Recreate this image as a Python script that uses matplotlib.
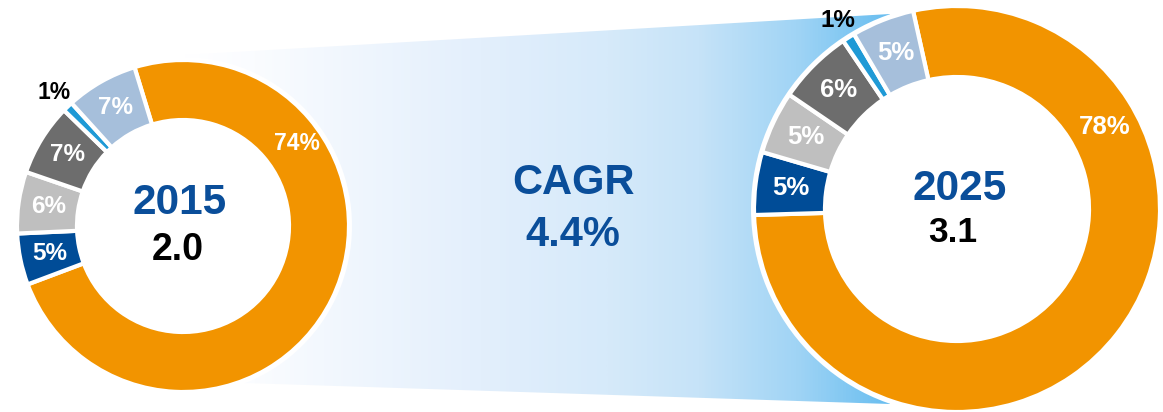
import numpy as np
import matplotlib
matplotlib.use("Agg")
import matplotlib.pyplot as plt
from matplotlib.colors import LinearSegmentedColormap
from matplotlib.patches import Polygon, Circle

# ---- data ----
segments = ["Orange", "Dark blue", "Light gray", "Dark gray", "Blue", "Light blue"]
share_2015 = [74, 5, 6, 7, 1, 7]
share_2025 = [78, 5, 5, 6, 1, 5]
year_labels = ["2015", "2025"]
totals = ["2.0", "3.1"]
cagr_label = "CAGR\n4.4%"

colors = ["#F29400", "#004C97", "#BFBFBF", "#6D6D6D", "#1F9AD6", "#A6BFDB"]
text_blue = "#0A4E9A"

W, H = 1163, 412
fig = plt.figure(figsize=(W / 100, H / 100), dpi=100)
ax = fig.add_axes([0, 0, 1, 1])
plt.rcParams["font.family"] = ["Liberation Sans", "DejaVu Sans"]


def Y(y):
    return H - y


# ---- gradient band ----
band = [(183, Y(55)), (890, Y(14)), (890, Y(404)), (183, Y(381))]
cmap = LinearSegmentedColormap.from_list(
    "band",
    [(0.0, "#FFFFFF"), (0.1, "#FAFCFF"), (0.42, "#E3EFFC"), (0.6, "#D6EAFA"),
     (0.73, "#C6E3F8"), (0.87, "#A0D4F5"), (1.0, "#69BEF0")])
grad = np.linspace(0, 1, 512).reshape(1, -1)
im = ax.imshow(grad, extent=[183, 890, Y(404), Y(14)], cmap=cmap,
               aspect="auto", zorder=0, interpolation="bilinear")
poly = Polygon(band, closed=True, facecolor="none", edgecolor="none")
ax.add_patch(poly)
im.set_clip_path(poly)

# ---- donuts ----
donuts = [
    dict(values=share_2015, center=(183, Y(226)), R=166, r=106, start=107,
         big_angle=36, big_r=141, small_fs=17.5, big_fs=16.5, out_off=20,
         year_xy=(180, Y(203)), total_xy=(178, Y(250)), year_fs=30.5, total_fs=27),
    dict(values=share_2025, center=(957, Y(209)), R=203, r=132, start=102.5,
         big_angle=29, big_r=169, small_fs=18.5, big_fs=18.5, out_off=20,
         year_xy=(960, Y(189)), total_xy=(953, Y(232)), year_fs=30.5, total_fs=25.5),
]

for i, d in enumerate(donuts):
    cx, cy = d["center"]
    ax.add_patch(Circle((cx, cy), d["R"] + 3, facecolor="white",
                        edgecolor="none", zorder=1))
    wedges, _ = ax.pie(d["values"], colors=colors, center=(cx, cy),
                       radius=d["R"], startangle=d["start"], counterclock=False,
                       wedgeprops=dict(width=d["R"] - d["r"], edgecolor="white",
                                       linewidth=3),
                       frame=False)
    for w in wedges:
        w.set_zorder(2)
    mid_r = (d["R"] + d["r"]) / 2
    big = int(np.argmax(d["values"]))
    small = int(np.argmin(d["values"]))
    for k, (w, v) in enumerate(zip(wedges, d["values"])):
        ang = np.deg2rad((w.theta1 + w.theta2) / 2)
        if k == big:
            a = np.deg2rad(d["big_angle"])
            x, y = cx + d["big_r"] * np.cos(a), cy + d["big_r"] * np.sin(a)
            ax.text(x, y, f"{v}%", color="white", fontsize=d["big_fs"],
                    fontweight="bold", ha="center", va="center", zorder=3)
        elif k == small:
            rr = d["R"] + d["out_off"]
            x, y = cx + rr * np.cos(ang), cy + rr * np.sin(ang)
            ax.text(x, y, f"{v}%", color="black", fontsize=d["small_fs"] - 1,
                    fontweight="bold", ha="center", va="center", zorder=3)
        else:
            x, y = cx + mid_r * np.cos(ang), cy + mid_r * np.sin(ang)
            ax.text(x, y, f"{v}%", color="white", fontsize=d["small_fs"],
                    fontweight="bold", ha="center", va="center", zorder=3)
    ax.text(*d["year_xy"], year_labels[i], color=text_blue, fontsize=d["year_fs"],
            fontweight="bold", ha="center", va="center", zorder=3)
    ax.text(*d["total_xy"], totals[i], color="black", fontsize=d["total_fs"],
            fontweight="bold", ha="center", va="center", zorder=3)

ax.text(573, Y(209), cagr_label, color=text_blue, fontsize=30, fontweight="bold",
        ha="center", va="center", linespacing=1.38, zorder=3)

ax.set_xlim(0, W)
ax.set_ylim(0, H)
ax.set_aspect("auto")
ax.axis("off")
fig.savefig("out.png", dpi=100, facecolor="white")
